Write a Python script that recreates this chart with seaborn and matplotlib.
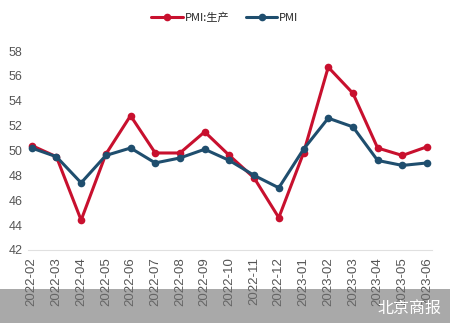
import matplotlib
matplotlib.use("Agg")
import matplotlib.pyplot as plt
import seaborn as sns
import pandas as pd
from matplotlib.patches import Rectangle
from matplotlib.lines import Line2D
from matplotlib import font_manager

months = ["2022-02", "2022-03", "2022-04", "2022-05", "2022-06", "2022-07", "2022-08",
          "2022-09", "2022-10", "2022-11", "2022-12", "2023-01", "2023-02", "2023-03",
          "2023-04", "2023-05", "2023-06"]
pmi_production = [50.4, 49.5, 44.4, 49.7, 52.8, 49.8, 49.8, 51.5, 49.6, 47.8, 44.6,
                  49.8, 56.7, 54.6, 50.2, 49.6, 50.3]
pmi = [50.2, 49.5, 47.4, 49.6, 50.2, 49.0, 49.4, 50.1, 49.2, 48.0, 47.0,
       50.1, 52.6, 51.9, 49.2, 48.8, 49.0]
series_names = ["PMI:生产", "PMI"]
yticks = [42, 44, 46, 48, 50, 52, 54, 56, 58]

sns.set_theme(style="white")
plt.rcParams['font.family'] = ['Liberation Sans', 'Noto Sans CJK SC', 'DejaVu Sans']

installed = {f.name for f in font_manager.fontManager.ttflist}
narrow = 'Liberation Sans Narrow' if 'Liberation Sans Narrow' in installed else 'Liberation Sans'

df = pd.DataFrame({
    "x": list(range(len(months))) * 2,
    "value": pmi_production + pmi,
    "series": [series_names[0]] * len(months) + [series_names[1]] * len(months),
})

fig = plt.figure(figsize=(4.5, 3.23), dpi=100)
ax = fig.add_axes([28 / 450, 1 - 250 / 323, 404 / 450, 199 / 323])

palette = {series_names[0]: "#C8102E", series_names[1]: "#1F4E6E"}
sns.lineplot(data=df, x="x", y="value", hue="series", palette=palette, ax=ax,
             marker="o", markersize=5.5, markeredgewidth=0, linewidth=2.2, legend=False)

ax.set_xlim(-0.15, len(months) - 1 + 0.2)
ax.set_ylim(42, 58)
ax.set_yticks(yticks)
ax.set_yticklabels([str(v) for v in yticks], fontsize=9, color="#555555")
ax.set_xticks(range(len(months)))
ax.set_xticklabels(months, rotation=90, fontsize=9.5, color="#555555", family=narrow)
ax.tick_params(axis="y", length=0, pad=4)
ax.tick_params(axis="x", length=2, direction="in", color="#E0E0E0", pad=5)
ax.set_xlabel("")
ax.set_ylabel("")
for s in ["top", "right", "left"]:
    ax.spines[s].set_visible(False)
ax.spines["bottom"].set_color("#E0E0E0")
ax.spines["bottom"].set_linewidth(0.8)

# legend
handles = [Line2D([0], [0], color=palette[n], lw=2.2, marker="o", markersize=5.5,
                  markeredgewidth=0) for n in series_names]
fig.legend(handles, series_names, loc="center", bbox_to_anchor=(0.5, 1 - 18 / 323),
           ncol=2, frameon=False, handlelength=2.8, columnspacing=1.5,
           handletextpad=0.2, prop={'family': ['Noto Sans CJK SC', 'DejaVu Sans'], 'size': 8})

# watermark band
fig.patches.append(Rectangle((0, 0), 1, 34 / 323, transform=fig.transFigure,
                             facecolor="#707070", alpha=0.6, edgecolor="none", zorder=10))
fig.text(441 / 450, 15 / 323, "北京商报", ha="right", va="center", color="white",
         fontsize=11.5, family=['Noto Sans CJK SC', 'DejaVu Sans'], zorder=11)

fig.savefig("out.png", dpi=100)
